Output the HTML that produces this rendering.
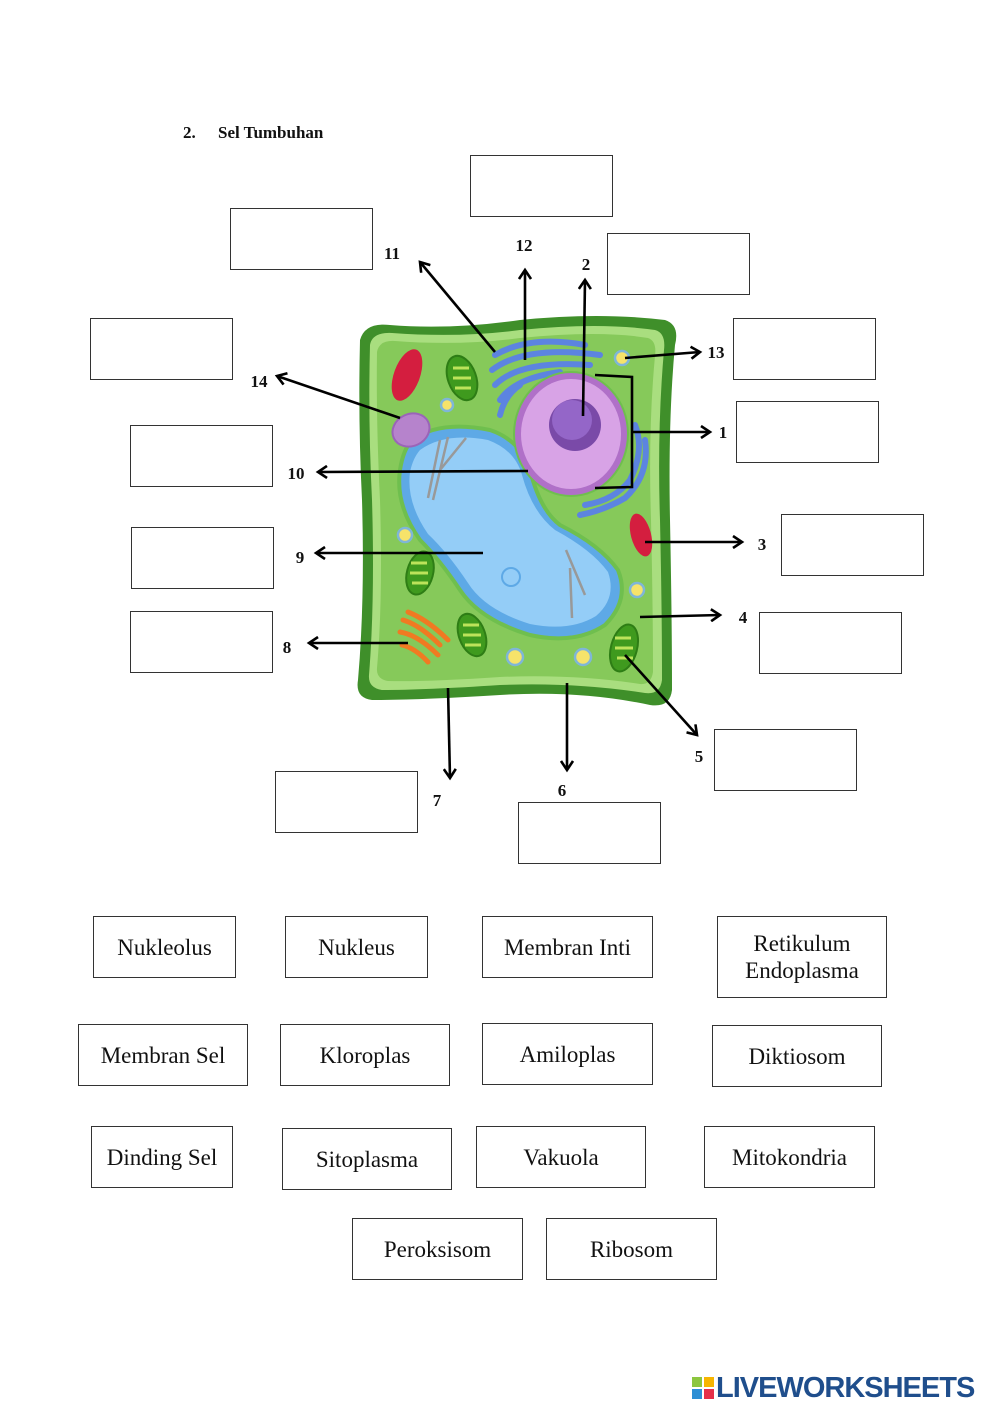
<!DOCTYPE html>
<html><head><meta charset="utf-8"><style>
body{margin:0;background:#fff;}
.p{position:relative;width:1000px;height:1414px;overflow:hidden;font-family:"Liberation Serif",serif;}
.b{position:absolute;border:1.3px solid #333;box-sizing:border-box;}
.w{position:absolute;border:1.3px solid #333;box-sizing:border-box;display:flex;align-items:center;justify-content:center;text-align:center;font-size:23px;line-height:27px;color:#111;}
.n{position:absolute;font-weight:bold;font-size:17px;color:#111;}
</style></head><body><div class="p">
<div class="n" style="left:183px;top:123px;">2.</div>
<div class="n" style="left:218px;top:123px;">Sel Tumbuhan</div>

<div class="b" style="left:470px;top:155px;width:143px;height:62px"></div>
<div class="b" style="left:230px;top:208px;width:143px;height:62px"></div>
<div class="b" style="left:607px;top:233px;width:143px;height:62px"></div>
<div class="b" style="left:90px;top:318px;width:143px;height:62px"></div>
<div class="b" style="left:733px;top:318px;width:143px;height:62px"></div>
<div class="b" style="left:736px;top:401px;width:143px;height:62px"></div>
<div class="b" style="left:130px;top:425px;width:143px;height:62px"></div>
<div class="b" style="left:131px;top:527px;width:143px;height:62px"></div>
<div class="b" style="left:781px;top:514px;width:143px;height:62px"></div>
<div class="b" style="left:130px;top:611px;width:143px;height:62px"></div>
<div class="b" style="left:759px;top:612px;width:143px;height:62px"></div>
<div class="b" style="left:714px;top:729px;width:143px;height:62px"></div>
<div class="b" style="left:275px;top:771px;width:143px;height:62px"></div>
<div class="b" style="left:518px;top:802px;width:143px;height:62px"></div>

<svg style="position:absolute;left:0;top:0" width="1000" height="900">
<defs>
<marker id="a" markerWidth="14" markerHeight="14" refX="11" refY="7" orient="auto" markerUnits="userSpaceOnUse">
<polyline points="2,1 11,7 2,13" fill="none" stroke="#000" stroke-width="2.6"/></marker>
</defs>
<path d="M360,340 Q365,322 390,325 Q450,330 520,320 Q600,312 665,320 Q680,325 675,345 Q668,420 670,520 Q672,620 672,690 Q670,708 650,705 Q580,690 500,695 Q420,700 372,700 Q355,698 358,680 Q365,600 362,500 Q358,420 360,340 Z" fill="#3f8f2a"/>
<path d="M370,345 Q372,332 392,333 Q460,338 520,330 Q600,322 655,330 Q666,333 664,350 Q657,430 660,520 Q662,610 662,680 Q660,695 645,693 Q575,682 500,685 Q425,690 382,690 Q368,688 369,675 Q375,600 372,500 Q368,420 370,345 Z" fill="#a9de7f"/>
<path d="M377,352 Q379,340 395,341 Q460,346 520,338 Q600,330 648,338 Q657,341 655,356 Q648,430 651,520 Q653,610 653,672 Q651,685 640,684 Q575,674 500,677 Q425,682 388,681 Q376,679 377,668 Q383,600 380,500 Q376,420 377,352 Z" fill="#86c95a"/>
<path d="M495,355 Q530,335 585,345 M492,370 Q525,345 600,355 M495,385 Q520,360 590,365 M500,400 Q515,378 560,372 M500,415 Q505,395 520,385 M635,425 Q645,450 630,480 Q615,500 585,505 M645,440 Q650,475 625,498 Q605,510 580,515" stroke="#5c84e0" stroke-width="6" fill="none" stroke-linecap="round"/>
<path d="M412,440 Q440,420 490,430 Q520,440 530,470 Q540,510 560,525 Q600,545 618,570 Q630,600 605,625 Q575,645 530,635 Q480,620 460,590 Q440,560 420,540 Q395,505 400,470 Q403,450 412,440 Z" fill="#5ea9e6" stroke="#6fbf4e" stroke-width="4"/>
<path d="M420,450 Q445,432 488,440 Q515,450 522,475 Q532,512 555,530 Q592,550 608,572 Q617,598 596,616 Q570,632 530,624 Q485,610 468,583 Q448,553 428,534 Q406,502 410,472 Q413,458 420,450 Z" fill="#94cdf7"/>
<circle cx="511" cy="577" r="9" fill="none" stroke="#5ea9e6" stroke-width="2"/>
<path d="M440,440 L428,498 M448,437 L433,500 M466,438 L440,470 M566,550 L585,595 M570,568 L572,618" stroke="#999" stroke-width="2.5"/>
<ellipse cx="571" cy="434" rx="58" ry="63" fill="#6fbf4e"/>
<ellipse cx="571" cy="434" rx="56" ry="61" fill="#b070c8"/>
<ellipse cx="571" cy="434" rx="50" ry="55" fill="#d8a3e6"/>
<circle cx="575" cy="425" r="26" fill="#7a4aa8"/>
<circle cx="572" cy="420" r="20" fill="#9466c8"/>
<ellipse cx="407" cy="375" rx="13" ry="27" transform="rotate(20 407 375)" fill="#d41e3f"/>
<ellipse cx="641" cy="535" rx="10" ry="22" transform="rotate(-15 641 535)" fill="#d41e3f"/>
<g fill="#3f9a1e" stroke="#2e7d15" stroke-width="2">
<ellipse cx="462" cy="378" rx="14" ry="23" transform="rotate(-20 462 378)"/>
<ellipse cx="420" cy="573" rx="13" ry="22" transform="rotate(15 420 573)"/>
<ellipse cx="472" cy="635" rx="13" ry="22" transform="rotate(-20 472 635)"/>
<ellipse cx="624" cy="648" rx="13" ry="24" transform="rotate(15 624 648)"/>
</g>
<g stroke="#bce35a" stroke-width="3">
<path d="M453,368h16M453,378h18M455,388h16M411,563h16M410,573h18M412,583h16M463,625h16M463,635h18M465,645h16M615,638h16M615,648h18M617,658h16"/>
</g>
<g fill="#f6e36a" stroke="#7fb6d8" stroke-width="2.5">
<circle cx="447" cy="405" r="6"/><circle cx="405" cy="535" r="7"/><circle cx="637" cy="590" r="7"/>
<circle cx="515" cy="657" r="8"/><circle cx="583" cy="657" r="8"/><circle cx="622" cy="358" r="7"/>
</g>
<ellipse cx="411" cy="430" rx="19" ry="16" transform="rotate(-25 411 430)" fill="#b683cc" stroke="#9a64b8" stroke-width="2"/>
<path d="M403,620 Q420,625 440,645 M400,632 Q418,635 438,655 M402,645 Q415,648 428,662 M408,612 Q428,620 448,640" stroke="#f07a22" stroke-width="5" fill="none" stroke-linecap="round"/>
<g stroke="#000" stroke-width="2.6" fill="none">
<line x1="495" y1="352" x2="420" y2="262" marker-end="url(#a)"/>
<line x1="525" y1="360" x2="525" y2="270" marker-end="url(#a)"/>
<line x1="583" y1="416" x2="585" y2="280" marker-end="url(#a)"/>
<line x1="625" y1="358" x2="700" y2="352" marker-end="url(#a)"/>
<polyline points="595,375 632,377 632,487 595,488"/>
<line x1="632" y1="432" x2="710" y2="432" marker-end="url(#a)"/>
<line x1="400" y1="418" x2="277" y2="376" marker-end="url(#a)"/>
<line x1="528" y1="471" x2="318" y2="472" marker-end="url(#a)"/>
<line x1="483" y1="553" x2="316" y2="553" marker-end="url(#a)"/>
<line x1="645" y1="542" x2="742" y2="542" marker-end="url(#a)"/>
<line x1="640" y1="617" x2="720" y2="615" marker-end="url(#a)"/>
<line x1="408" y1="643" x2="309" y2="643" marker-end="url(#a)"/>
<line x1="448" y1="688" x2="450" y2="778" marker-end="url(#a)"/>
<line x1="567" y1="683" x2="567" y2="770" marker-end="url(#a)"/>
<line x1="625" y1="655" x2="697" y2="735" marker-end="url(#a)"/>
</g>
<g font-family="Liberation Serif,serif" font-weight="bold" font-size="17" fill="#111" text-anchor="middle">
<text x="392" y="259">11</text><text x="524" y="251">12</text><text x="586" y="270">2</text>
<text x="716" y="358">13</text><text x="723" y="438">1</text><text x="259" y="387">14</text>
<text x="296" y="479">10</text><text x="300" y="563">9</text><text x="762" y="550">3</text>
<text x="743" y="623">4</text><text x="287" y="653">8</text><text x="437" y="806">7</text>
<text x="562" y="796">6</text><text x="699" y="762">5</text>
</g>
</svg>

<div class="w" style="left:93px;top:916px;width:143px;height:62px">Nukleolus</div>
<div class="w" style="left:285px;top:916px;width:143px;height:62px">Nukleus</div>
<div class="w" style="left:482px;top:916px;width:171px;height:62px">Membran Inti</div>
<div class="w" style="left:717px;top:916px;width:170px;height:82px">Retikulum<br>Endoplasma</div>
<div class="w" style="left:78px;top:1024px;width:170px;height:62px">Membran Sel</div>
<div class="w" style="left:280px;top:1024px;width:170px;height:62px">Kloroplas</div>
<div class="w" style="left:482px;top:1023px;width:171px;height:62px">Amiloplas</div>
<div class="w" style="left:712px;top:1025px;width:170px;height:62px">Diktiosom</div>
<div class="w" style="left:91px;top:1126px;width:142px;height:62px">Dinding Sel</div>
<div class="w" style="left:282px;top:1128px;width:170px;height:62px">Sitoplasma</div>
<div class="w" style="left:476px;top:1126px;width:170px;height:62px">Vakuola</div>
<div class="w" style="left:704px;top:1126px;width:171px;height:62px">Mitokondria</div>
<div class="w" style="left:352px;top:1218px;width:171px;height:62px">Peroksisom</div>
<div class="w" style="left:546px;top:1218px;width:171px;height:62px">Ribosom</div>

<div style="position:absolute;left:692px;top:1377px;width:22px;height:22px;">
<div style="position:absolute;left:0;top:0;width:10px;height:10px;background:#8cc63f"></div>
<div style="position:absolute;left:12px;top:0;width:10px;height:10px;background:#f7b500"></div>
<div style="position:absolute;left:0;top:12px;width:10px;height:10px;background:#2d8fd5"></div>
<div style="position:absolute;left:12px;top:12px;width:10px;height:10px;background:#e5304a"></div>
</div>
<div style="position:absolute;left:716px;top:1372px;font-family:'Liberation Sans',sans-serif;font-weight:bold;font-size:29px;color:#1f4e8c;letter-spacing:-1px;">LIVEWORKSHEETS</div>
</div></body></html>
